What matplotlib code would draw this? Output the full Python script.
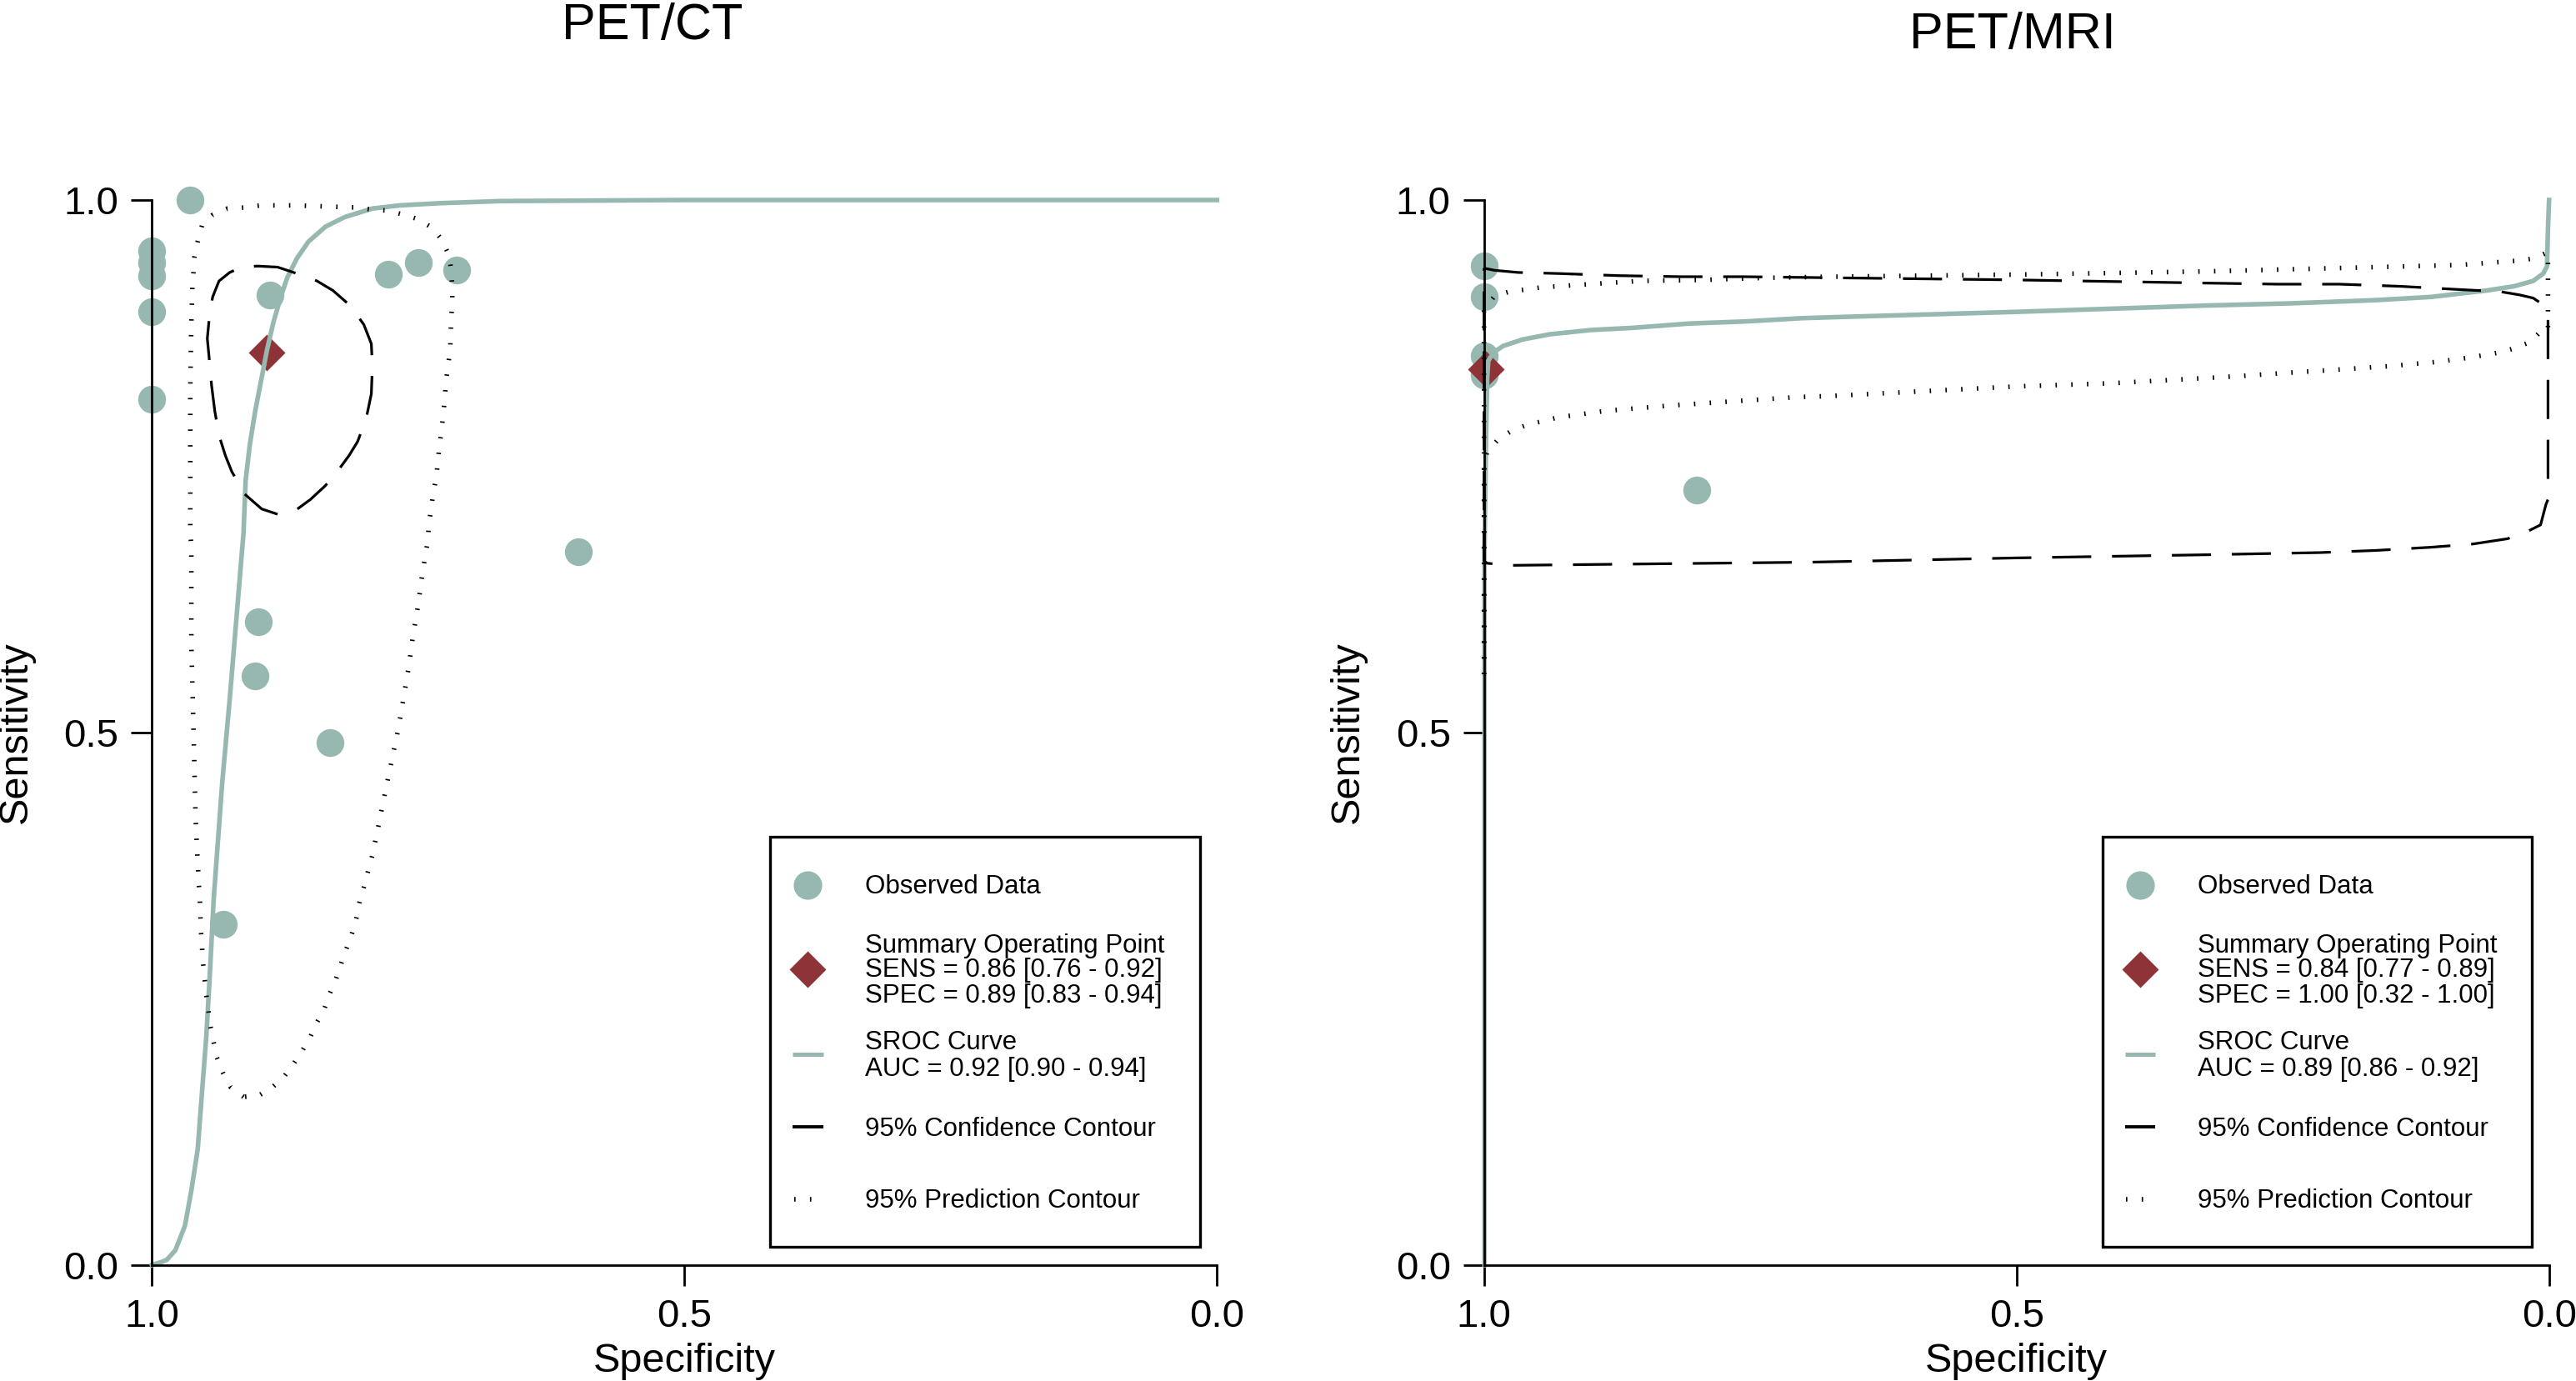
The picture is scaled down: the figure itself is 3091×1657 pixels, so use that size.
import matplotlib
matplotlib.use("Agg")
import matplotlib.pyplot as plt
from matplotlib.patches import Rectangle

plt.rcParams['font.family'] = ['Liberation Sans', 'DejaVu Sans']

# ---------------- data: PET/CT ----------------
ct_obs_spec = [0.964, 1.0, 1.0, 1.0, 1.0, 1.0, 0.889, 0.778, 0.750, 0.714,
               0.600, 0.900, 0.903, 0.833, 0.933]
ct_obs_sens = [1.0, 0.952, 0.941, 0.929, 0.895, 0.813, 0.911, 0.930, 0.941, 0.934,
               0.670, 0.604, 0.553, 0.491, 0.320]
ct_sum_spec = [0.892]
ct_sum_sens = [0.857]

ct_sroc_spec = [1.0, 0.991, 0.986, 0.978, 0.969, 0.963, 0.957, 0.953, 0.949, 0.946,
                0.942, 0.934, 0.927, 0.914, 0.912, 0.908, 0.903, 0.897, 0.892, 0.886,
                0.879, 0.873, 0.864, 0.853, 0.837, 0.819, 0.793, 0.767, 0.730, 0.673,
                0.5, 0.0]
ct_sroc_sens = [0.0, 0.003, 0.005, 0.014, 0.037, 0.070, 0.109, 0.162, 0.214, 0.266,
                0.344, 0.453, 0.531, 0.6875, 0.737, 0.771, 0.802, 0.833, 0.859, 0.885,
                0.909, 0.927, 0.945, 0.961, 0.975, 0.984, 0.992, 0.995, 0.997, 0.999,
                1.0, 1.0]

ct_conf_spec = [0.901, 0.882, 0.864, 0.845, 0.830, 0.814, 0.801, 0.794, 0.793, 0.794,
                0.799, 0.807, 0.815, 0.826, 0.837, 0.851, 0.866, 0.882, 0.897, 0.913,
                0.925, 0.931, 0.937, 0.941, 0.944, 0.946, 0.948, 0.946, 0.943, 0.937,
                0.927, 0.916, 0.901]
ct_conf_sens = [0.938, 0.937, 0.931, 0.924, 0.915, 0.901, 0.883, 0.865, 0.844, 0.818,
                0.794, 0.773, 0.760, 0.745, 0.732, 0.719, 0.708, 0.705, 0.710, 0.724,
                0.745, 0.760, 0.779, 0.802, 0.826, 0.849, 0.870, 0.891, 0.909, 0.924,
                0.932, 0.937, 0.938]

ct_pred_spec = [0.914, 0.926, 0.933, 0.939, 0.942, 0.945, 0.949, 0.952, 0.954, 0.955,
                0.956, 0.959, 0.961, 0.963, 0.963, 0.964, 0.964, 0.964, 0.963, 0.962,
                0.961, 0.960, 0.957, 0.953, 0.943, 0.929, 0.913, 0.897, 0.869, 0.837,
                0.809, 0.793, 0.778, 0.763, 0.750, 0.737, 0.728, 0.721, 0.719, 0.718,
                0.718, 0.719, 0.720, 0.722, 0.724, 0.725, 0.728, 0.730, 0.733, 0.736,
                0.740, 0.741, 0.746, 0.750, 0.755, 0.759, 0.764, 0.769, 0.775, 0.781,
                0.787, 0.793, 0.801, 0.805, 0.808, 0.812, 0.817, 0.822, 0.827, 0.833,
                0.838, 0.845, 0.851, 0.859, 0.867, 0.876, 0.887, 0.900, 0.914]
ct_pred_sens = [0.158, 0.167, 0.180, 0.195, 0.209, 0.224, 0.254, 0.284, 0.314, 0.344,
                0.358, 0.419, 0.505, 0.583, 0.675, 0.6875, 0.771, 0.823, 0.885, 0.917,
                0.932, 0.947, 0.961, 0.976, 0.986, 0.992, 0.993, 0.995, 0.995, 0.994,
                0.993, 0.991, 0.990, 0.986, 0.982, 0.974, 0.963, 0.948, 0.934, 0.918,
                0.904, 0.889, 0.859, 0.844, 0.829, 0.814, 0.784, 0.770, 0.740, 0.724,
                0.695, 0.680, 0.650, 0.620, 0.590, 0.561, 0.531, 0.502, 0.473, 0.444,
                0.414, 0.385, 0.355, 0.341, 0.326, 0.312, 0.298, 0.284, 0.269, 0.255,
                0.241, 0.228, 0.215, 0.201, 0.189, 0.177, 0.167, 0.159, 0.158]

# ---------------- data: PET/MRI ----------------
mr_obs_spec = [1.0, 1.0, 1.0, 1.0, 0.800]
mr_obs_sens = [0.938, 0.909, 0.854, 0.836, 0.728]
mr_sum_spec = [0.998]
mr_sum_sens = [0.841]

mr_sroc_spec = [0.9995, 0.9995, 0.998, 0.997, 0.996, 0.991, 0.982, 0.964, 0.938, 0.899,
                0.860, 0.808, 0.755, 0.703, 0.672, 0.5, 0.410, 0.320, 0.242, 0.163,
                0.111, 0.059, 0.033, 0.015, 0.0055, 0.002, 0.001, 0.0]
mr_sroc_sens = [0.0, 0.672, 0.781, 0.833, 0.849, 0.857, 0.863, 0.869, 0.874, 0.878,
                0.880, 0.884, 0.886, 0.889, 0.890, 0.895, 0.898, 0.901, 0.903, 0.906,
                0.909, 0.915, 0.919, 0.924, 0.931, 0.9375, 0.974, 1.0]

mr_conf_spec = [1.0, 0.990, 0.968, 0.930, 0.873, 0.815, 0.755, 0.672, 0.5, 0.320,
                0.255, 0.197, 0.140, 0.085, 0.046, 0.028, 0.015, 0.009, 0.003, 0.001,
                0.001, 0.003, 0.008, 0.020, 0.039, 0.072, 0.111, 0.163, 0.215, 0.268,
                0.320, 0.5, 0.693, 0.976, 0.997, 1.0, 1.0]
mr_conf_sens = [0.936, 0.934, 0.932, 0.931, 0.929, 0.928, 0.928, 0.927, 0.925, 0.922,
                0.921, 0.921, 0.919, 0.916, 0.914, 0.911, 0.908, 0.904, 0.896, 0.891,
                0.719, 0.714, 0.695, 0.689, 0.682, 0.677, 0.674, 0.671, 0.669, 0.668,
                0.667, 0.664, 0.660, 0.657, 0.659, 0.661, 0.936]

mr_pred_spec = [1.0, 1.0, 0.997, 0.990, 0.976, 0.946, 0.901, 0.854, 0.795, 0.734,
                0.674, 0.5, 0.320, 0.242, 0.163, 0.085, 0.030, 0.015, 0.001, 0.001,
                0.0068, 0.017, 0.032, 0.046, 0.075, 0.106, 0.150, 0.195, 0.242, 0.286,
                0.320, 0.410, 0.5, 0.674, 0.706, 0.766, 0.826, 0.886, 0.930, 0.959,
                0.973, 0.986, 0.997, 1.0, 1.0]
mr_pred_sens = [0.555, 0.895, 0.901, 0.910, 0.914, 0.918, 0.921, 0.924, 0.925, 0.927,
                0.928, 0.930, 0.933, 0.935, 0.937, 0.939, 0.943, 0.945, 0.951, 0.878,
                0.878, 0.867, 0.861, 0.857, 0.852, 0.848, 0.844, 0.841, 0.838, 0.835,
                0.833, 0.828, 0.825, 0.816, 0.815, 0.811, 0.807, 0.802, 0.796, 0.789,
                0.784, 0.776, 0.764, 0.750, 0.555]

titles = ["PET/CT", "PET/MRI"]
tick_vals = [0.0, 0.5, 1.0]
tick_labels = ["0.0", "0.5", "1.0"]
legend_ct = ["Observed Data", "Summary Operating Point",
             "SENS = 0.86 [0.76 - 0.92]", "SPEC = 0.89 [0.83 - 0.94]",
             "SROC Curve", "AUC = 0.92 [0.90 - 0.94]",
             "95% Confidence Contour", "95% Prediction Contour"]
legend_mr = ["Observed Data", "Summary Operating Point",
             "SENS = 0.84 [0.77 - 0.89]", "SPEC = 1.00 [0.32 - 1.00]",
             "SROC Curve", "AUC = 0.89 [0.86 - 0.92]",
             "95% Confidence Contour", "95% Prediction Contour"]

# ---------------- styles ----------------
TEAL = "#97B8B0"
RED = "#8E3338"
W, H = 3091, 1657
DPI = 200
DASH = (0, (14.7, 7.8))
DOT = (0, (0.3, 3.1))

fig = plt.figure(figsize=(W / DPI, H / DPI), dpi=DPI)

AX_W = 1278.0
AX_H = 1278.0
Y0 = 1518.0
lefts = [182.3, 1780.7]


def fx(x):
    return (x - 182.3) / AX_W


def fy(y):
    return (Y0 - y) / AX_H


def draw_legend(ax, labels):
    ax.add_patch(Rectangle((fx(924.4), fy(1495.5)), fx(1440) - fx(924.4),
                           fy(1004) - fy(1495.5), transform=ax.transAxes,
                           fill=False, lw=1.2, ec="black", clip_on=False, zorder=20))
    ax.plot([fx(969.3)], [fy(1061.7)], "o", ms=12.3, color=TEAL, mec="none",
            transform=ax.transAxes, clip_on=False, zorder=20)
    ax.plot([fx(969.3)], [fy(1162.8)], "D", ms=11.3, color=RED, mec="none",
            transform=ax.transAxes, clip_on=False, zorder=20)
    ax.plot([fx(951.3), fx(987.9)], [fy(1265.2)] * 2, color=TEAL, lw=1.8,
            solid_capstyle="butt", transform=ax.transAxes, clip_on=False, zorder=20)
    ax.plot([fx(951.3), fx(987.9)], [fy(1352.0)] * 2, color="black", lw=1.4,
            solid_capstyle="butt", transform=ax.transAxes, clip_on=False, zorder=20)
    ax.plot([fx(953), fx(988)], [fy(1438.6)] * 2, color="black", lw=2.0, ls=DOT,
            transform=ax.transAxes, clip_on=False, zorder=20)
    baselines = [1072.4, 1142.8, 1172.4, 1203.4, 1259.3, 1291.0, 1362.8, 1449.0]
    for lab, b in zip(labels, baselines):
        ax.text(fx(1038.2), fy(b), lab, transform=ax.transAxes, fontsize=11.25,
                va="baseline", ha="left", zorder=21)


panels = [
    (ct_obs_spec, ct_obs_sens, ct_sum_spec, ct_sum_sens, ct_sroc_spec, ct_sroc_sens,
     ct_conf_spec, ct_conf_sens, ct_pred_spec, ct_pred_sens, legend_ct),
    (mr_obs_spec, mr_obs_sens, mr_sum_spec, mr_sum_sens, mr_sroc_spec, mr_sroc_sens,
     mr_conf_spec, mr_conf_sens, mr_pred_spec, mr_pred_sens, legend_mr),
]

for i, (ospec, osens, sspec, ssens, rspec, rsens, cspec, csens, pspec, psens, leg) in enumerate(panels):
    ax = fig.add_axes([lefts[i] / W, (H - Y0) / H, AX_W / W, AX_H / H])
    ax.set_xlim(1.0, 0.0)
    ax.set_ylim(0.0, 1.0)
    ax.plot(ospec, osens, "o", ms=12, color=TEAL, mec="none", clip_on=False, zorder=3)
    ax.plot(sspec, ssens, "D", ms=11, color=RED, mec="none", clip_on=False, zorder=4)
    ax.plot(rspec, rsens, "-", color=TEAL, lw=2.0, clip_on=False, zorder=5)
    ax.plot(cspec, csens, color="black", lw=1.15, ls=DASH, clip_on=False, zorder=6)
    ax.plot(pspec, psens, color="black", lw=2.0, ls=DOT, clip_on=False, zorder=6)

    for s in ("top", "right"):
        ax.spines[s].set_visible(False)
    for s in ("left", "bottom"):
        ax.spines[s].set_linewidth(1.0)
        ax.spines[s].set_zorder(10)
    ax.set_xticks(tick_vals[::-1])
    ax.set_xticklabels(tick_labels[::-1])
    ax.set_yticks(tick_vals)
    ax.set_yticklabels(tick_labels)
    ax.tick_params(direction="out", length=9, width=1.0, pad=5.4, labelsize=17,
                   colors="black")
    ax.set_xlabel("Specificity", fontsize=17.5)
    ax.set_ylabel("Sensitivity", fontsize=17.5)
    ax.xaxis.set_label_coords(0.5, -0.0728)
    ax.yaxis.set_label_coords(-0.110, 0.5)
    ax.patch.set_alpha(0)
    draw_legend(ax, leg)

fig.text(783 / W, (H - 47) / H, titles[0], fontsize=22, ha="center", va="baseline")
fig.text(2415 / W, (H - 58) / H, titles[1], fontsize=22, ha="center", va="baseline")

fig.savefig("out.png", dpi=DPI, facecolor="white")
